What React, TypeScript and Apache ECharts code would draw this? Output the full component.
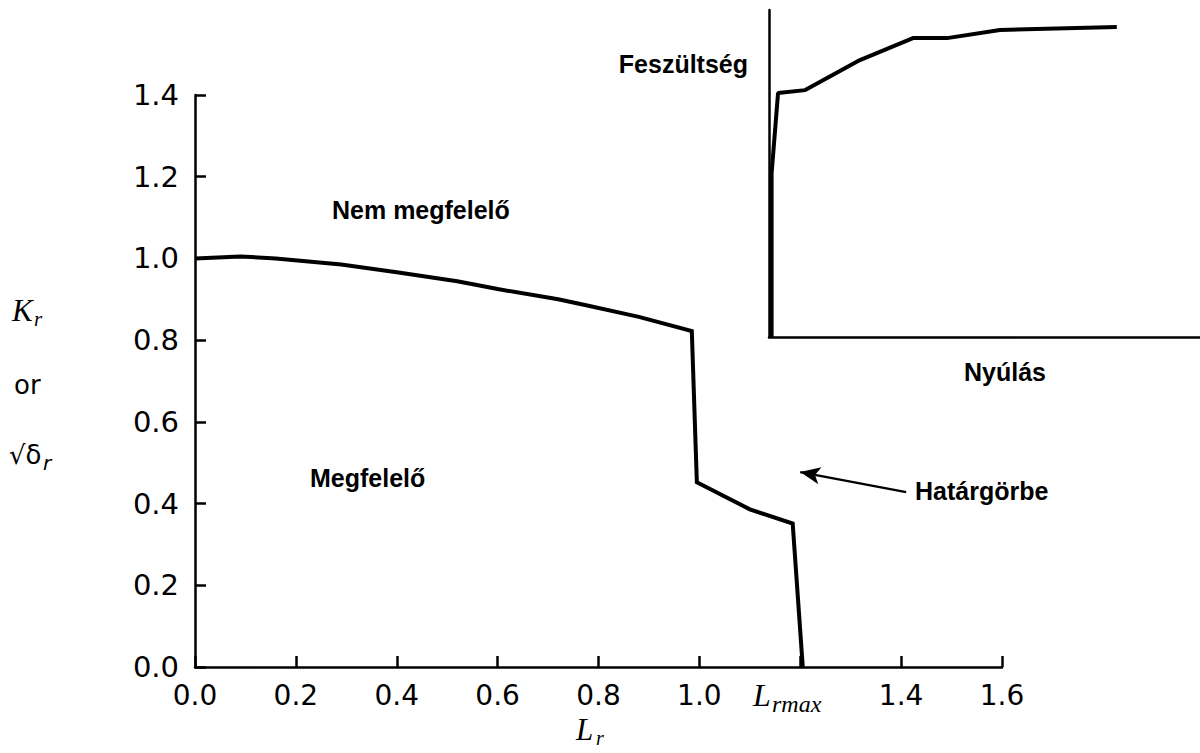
import React, { useEffect, useRef } from "react";
import * as echarts from "echarts";

// Failure assessment boundary curve: L_r (load ratio) vs K_r
const lrValues = [0, 0.09, 0.16, 0.29, 0.4, 0.52, 0.6, 0.72, 0.78, 0.88, 0.985, 0.995, 1.1, 1.185, 1.205];
const krValues = [1.0, 1.005, 1.0, 0.985, 0.966, 0.944, 0.925, 0.9, 0.884, 0.857, 0.822, 0.452, 0.386, 0.351, 0.0];

// Inset stress–strain sketch (arbitrary units, 0–100)
const strainValues = [0.6, 0.6, 2.1, 8.4, 21.1, 33.4, 41.3, 53.6, 80.7];
const stressValues = [0, 50, 74.6, 75.5, 84.7, 91.4, 91.4, 93.9, 94.8];

// Axis ranges
const lrMin = 0;
const lrMax = 1.6;
const lrStep = 0.2;
const krMin = 0;
const krMax = 1.4;
const krStep = 0.2;
const lrMaxTick = 1.2; // position of L_r,max, labelled separately

// Arrow pointing at the boundary curve (data coordinates)
const arrowFrom = [1.41, 0.428];
const arrowTo = [1.2, 0.477];

const black = "#000";
const tickFont = "'DejaVu Sans', sans-serif";
const labelFont = "'Liberation Sans', Arial, sans-serif";
const mathFont = "'Liberation Serif', 'Times New Roman', serif";

export default function App() {
  const ref = useRef<HTMLDivElement>(null);

  useEffect(() => {
    if (!ref.current) return;
    const chart = echarts.init(ref.current, undefined, { renderer: "svg" });

    const boundary = lrValues.map((x, i) => [x, krValues[i]]);
    const stressStrain = strainValues.map((x, i) => [x, stressValues[i]]);

    const regionText = (text: string, x: number, y: number, align = "left") => ({
      type: "text",
      x,
      y,
      style: {
        text,
        fill: black,
        font: `bold 25px ${labelFont}`,
        align,
        verticalAlign: "middle",
      },
    });

    const mathText = (text: string, x: number, y: number, size: number, family = mathFont) => ({
      type: "text",
      x,
      y,
      style: { text, fill: black, font: `italic ${size}px ${family}`, verticalAlign: "middle" },
    });

    const option: any = {
      animation: false,
      backgroundColor: "#fff",
      grid: [
        { left: 195, top: 95, width: 807, height: 572 },
        { left: 769, top: 10, width: 431, height: 327 },
      ],
      xAxis: [
        {
          gridIndex: 0,
          type: "value",
          min: lrMin,
          max: lrMax,
          interval: lrStep,
          splitLine: { show: false },
          axisLine: { lineStyle: { color: black, width: 2.5 } },
          axisTick: { inside: true, length: 11, lineStyle: { color: black, width: 2.5 } },
          axisLabel: {
            margin: 14,
            color: black,
            fontFamily: tickFont,
            fontSize: 28,
            showMinLabel: true,
            showMaxLabel: true,
            formatter: (v: number) => (Math.abs(v - lrMaxTick) < 1e-6 ? "" : v.toFixed(1)),
          },
        },
        {
          gridIndex: 1,
          type: "value",
          min: 0,
          max: 100,
          splitLine: { show: false },
          axisLine: { lineStyle: { color: black, width: 2.5 } },
          axisTick: { show: false },
          axisLabel: { show: false },
        },
      ],
      yAxis: [
        {
          gridIndex: 0,
          type: "value",
          min: krMin,
          max: krMax,
          interval: krStep,
          splitLine: { show: false },
          axisLine: { lineStyle: { color: black, width: 2.5 } },
          axisTick: { inside: true, length: 11, lineStyle: { color: black, width: 2.5 } },
          axisLabel: {
            margin: 16,
            color: black,
            fontFamily: tickFont,
            fontSize: 29,
            formatter: (v: number) => v.toFixed(1),
          },
        },
        {
          gridIndex: 1,
          type: "value",
          min: 0,
          max: 100,
          splitLine: { show: false },
          axisLine: { lineStyle: { color: black, width: 2.5 } },
          axisTick: { show: false },
          axisLabel: { show: false },
        },
      ],
      series: [
        {
          type: "line",
          xAxisIndex: 0,
          yAxisIndex: 0,
          data: boundary,
          symbol: "none",
          lineStyle: { color: black, width: 4, join: "miter" },
          markLine: {
            silent: true,
            symbol: ["none", "arrow"],
            symbolSize: [13, 20],
            label: { show: false },
            lineStyle: { color: black, width: 2.5, type: "solid" },
            data: [[{ coord: arrowFrom }, { coord: arrowTo }]],
          },
        },
        {
          type: "line",
          xAxisIndex: 1,
          yAxisIndex: 1,
          data: stressStrain,
          symbol: "none",
          lineStyle: { color: black, width: 4 },
        },
      ],
      graphic: [
        regionText("Nem megfelelő", 332, 210),
        regionText("Megfelelő", 310, 478),
        regionText("Határgörbe", 915, 491),
        regionText("Feszültség", 748, 64, "right"),
        regionText("Nyúlás", 1005, 372, "center"),
        // y-axis title: K_r or √δ_r
        mathText("K", 12, 310, 31),
        mathText("r", 34, 319, 21),
        {
          type: "text",
          x: 14,
          y: 385,
          style: { text: "or", fill: black, font: `26px ${tickFont}`, verticalAlign: "middle" },
        },
        {
          type: "text",
          x: 9,
          y: 455,
          style: { text: "√δ", fill: black, font: `26px ${tickFont}`, verticalAlign: "middle" },
        },
        mathText("r", 43, 463, 20, tickFont),
        // x-axis title: L_r
        mathText("L", 576, 729, 31),
        mathText("r", 596, 738, 20),
        // L_r,max under its tick
        mathText("L", 753, 695, 32),
        mathText("rmax", 772, 704, 24),
      ],
    };

    chart.setOption(option);
    return () => chart.dispose();
  }, []);

  return (
    <div
      ref={ref}
      style={{ position: "fixed", left: 0, top: 0, width: 1200, height: 753, background: "#fff" }}
    />
  );
}
